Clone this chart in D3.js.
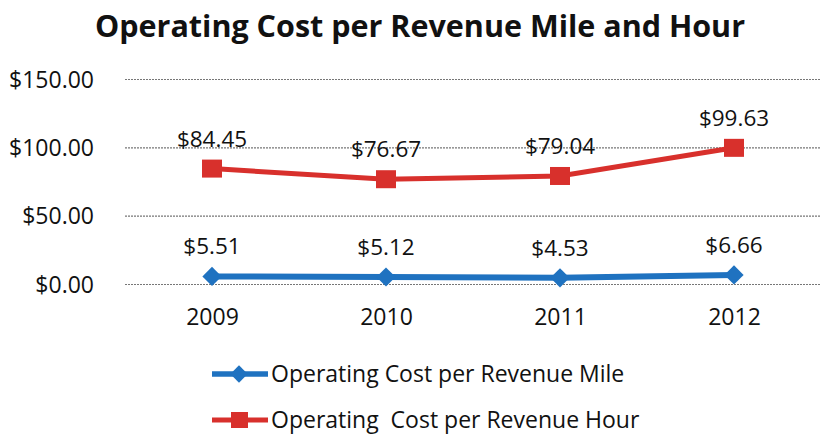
<!DOCTYPE html>
<html>
<head>
<meta charset="utf-8">
<script src="https://cdn.jsdelivr.net/npm/d3@7"></script>
<style>
  body { margin: 0; background: #fff; }
  svg { display: block; }
  text { font-family: "Open Sans", Lato, sans-serif; fill: #111; white-space: pre; }
</style>
</head>
<body>
<svg id="chart" width="822" height="435"></svg>
<script>
const years = ["2009", "2010", "2011", "2012"];
const costPerMile = [5.51, 5.12, 4.53, 6.66];
const costPerHour = [84.45, 76.67, 79.04, 99.63];
const yTicks = [0, 50, 100, 150];
const seriesNames = ["Operating Cost per Revenue Mile", "Operating  Cost per Revenue Hour"];
const titleText = "Operating Cost per Revenue Mile and Hour";

const svg = d3.select("#chart");
const W = 822, H = 435;
const margin = { left: 125, right: 1, top: 79, bottom: 151 };

const x = d3.scalePoint().domain(years).range([margin.left, W - margin.right]).padding(0.5);
const y = d3.scaleLinear().domain([0, 150]).range([H - margin.bottom, margin.top]);

// title
svg.append("text")
  .attr("x", 420).attr("y", 37)
  .attr("text-anchor", "middle")
  .style("font-size", "30.5px").style("font-weight", "bold")
  .text(titleText);

// gridlines
const yAxis = d3.axisLeft(y).tickValues(yTicks).tickSize(-(W - margin.left - margin.right))
  .tickFormat(d => "$" + d3.format(".2f")(d)).tickPadding(31);
const gy = svg.append("g").attr("transform", `translate(${margin.left},0)`).call(yAxis);
gy.select(".domain").remove();
gy.selectAll(".tick line").attr("stroke", "#777").attr("stroke-width", 1.2).attr("stroke-dasharray", "2,1");
gy.selectAll(".tick text").style("font-size", "23px").attr("fill", "#111").attr("dy", "0.35em");

// x axis labels
const xAxis = d3.axisBottom(x).tickSize(0).tickPadding(25);
const gx = svg.append("g").attr("transform", `translate(0,${y(0)})`).call(xAxis);
gx.select(".domain").remove();
gx.selectAll(".tick text").style("font-size", "23px").attr("fill", "#111");

const blue = "#1f72c0", red = "#d8302c";
const line = d3.line().x((d, i) => x(years[i])).y(d => y(d));

// red series
svg.append("path").datum(costPerHour).attr("d", line)
  .attr("fill", "none").attr("stroke", red).attr("stroke-width", 5);
svg.selectAll(".sq").data(costPerHour).enter().append("rect")
  .attr("x", (d, i) => x(years[i]) - 10).attr("y", d => y(d) - 9)
  .attr("width", 20).attr("height", 18).attr("fill", red);
svg.selectAll(".rl").data(costPerHour).enter().append("text")
  .attr("x", (d, i) => x(years[i])).attr("y", d => y(d) - 22)
  .attr("text-anchor", "middle").style("font-size", "22.5px")
  .text(d => "$" + d3.format(".2f")(d));

// blue series
svg.append("path").datum(costPerMile).attr("d", line)
  .attr("fill", "none").attr("stroke", blue).attr("stroke-width", 6);
svg.selectAll(".dm").data(costPerMile).enter().append("path")
  .attr("d", d3.symbol().type(d3.symbolSquare).size(185))
  .attr("transform", (d, i) => `translate(${x(years[i])},${y(d)}) rotate(45)`)
  .attr("fill", blue);
svg.selectAll(".bl").data(costPerMile).enter().append("text")
  .attr("x", (d, i) => x(years[i])).attr("y", d => y(d) - 22)
  .attr("text-anchor", "middle").style("font-size", "22.5px")
  .text(d => "$" + d3.format(".2f")(d));

// legend
const legend = [
  { name: seriesNames[0], color: blue, shape: "diamond", y: 374 },
  { name: seriesNames[1], color: red, shape: "square", y: 420 }
];
legend.forEach(l => {
  svg.append("line").attr("x1", 212).attr("x2", 268).attr("y1", l.y).attr("y2", l.y)
    .attr("stroke", l.color).attr("stroke-width", l.shape === "diamond" ? 5.5 : 5);
  if (l.shape === "diamond") {
    svg.append("path").attr("d", d3.symbol().type(d3.symbolSquare).size(150))
      .attr("transform", `translate(239,${l.y}) rotate(45)`).attr("fill", l.color);
  } else {
    svg.append("rect").attr("x", 231).attr("y", l.y - 8).attr("width", 17).attr("height", 16).attr("fill", l.color);
  }
  svg.append("text").attr("x", 271).attr("y", l.y).attr("dy", "0.35em")
    .style("font-size", "23px").text(l.name);
});
</script>
</body>
</html>
